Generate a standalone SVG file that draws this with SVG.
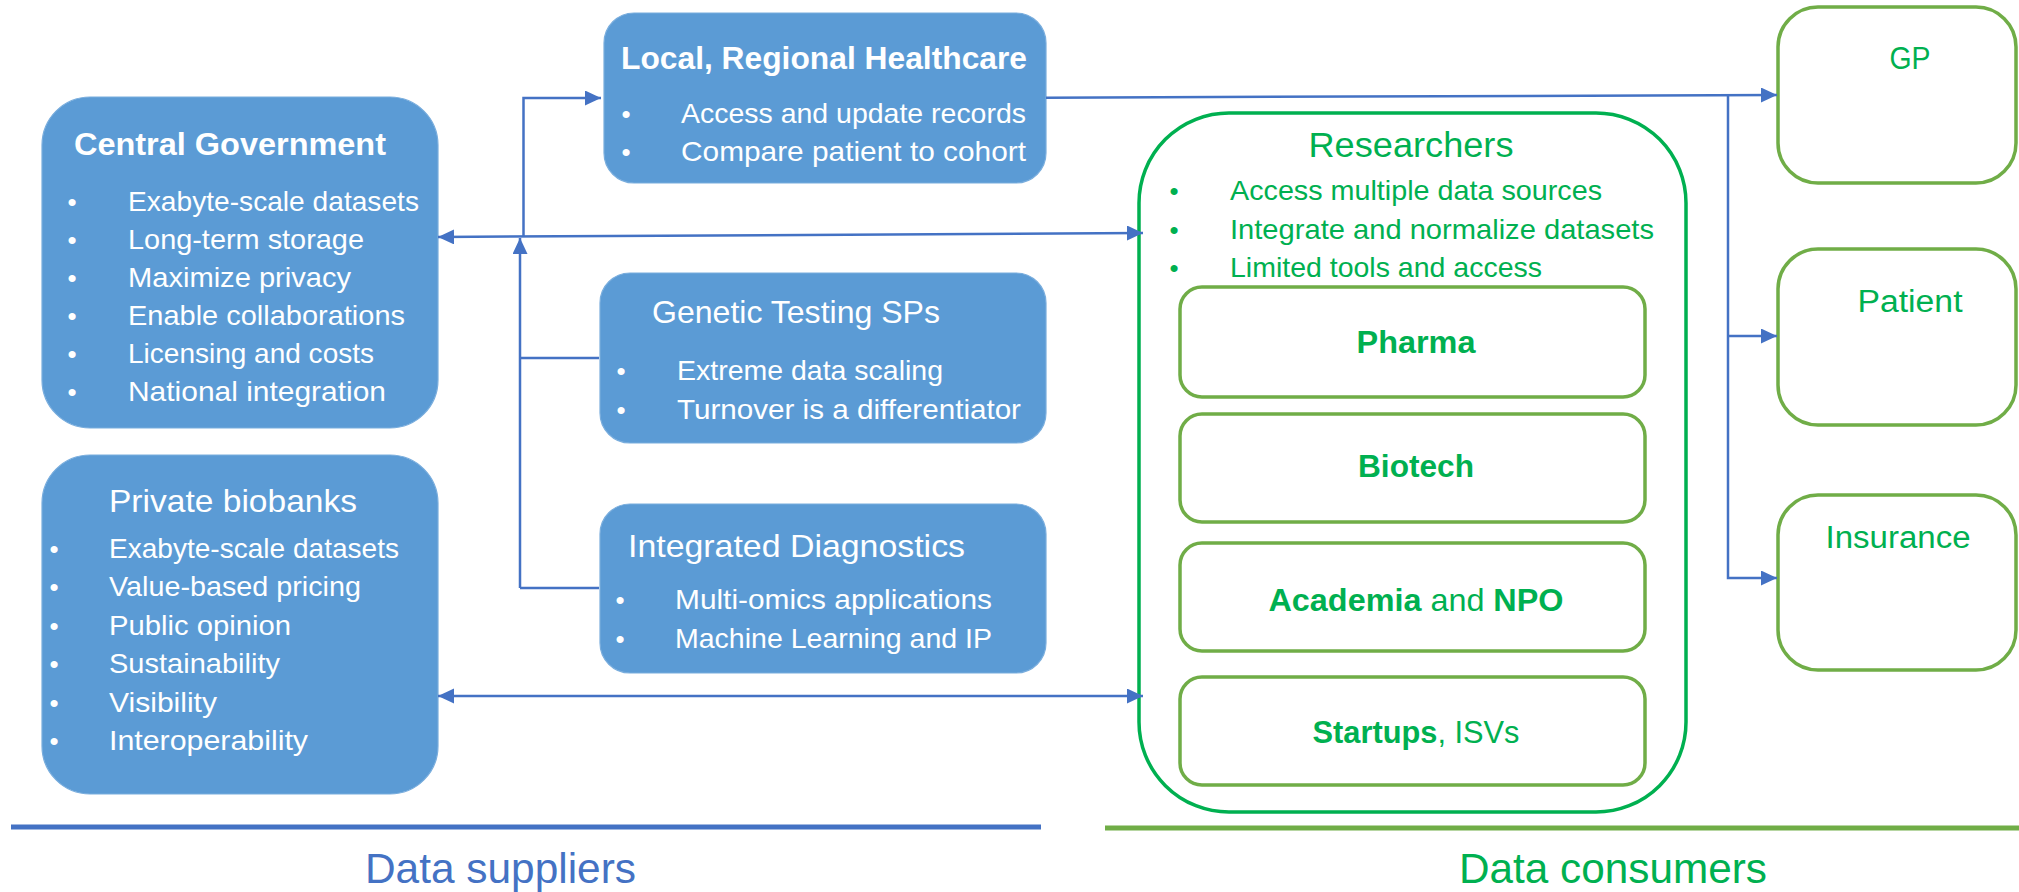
<svg xmlns="http://www.w3.org/2000/svg" width="2019" height="892" viewBox="0 0 2019 892">
<defs>
<style>
.sup{fill:#5B9BD5;stroke:#79ADDD;stroke-width:1.2}
.t{font-family:"Liberation Sans",Arial,sans-serif;fill:#fff}
.ttl{font-size:32px}
.b{font-weight:bold}
.bl{font-size:28px}
.dot{font-size:26px;text-anchor:middle}
.g{fill:#00B050}
.ctr{text-anchor:middle}
.cons{fill:#fff;stroke:#70AD47;stroke-width:3.5}
.res{fill:none;stroke:#00B050;stroke-width:3.5}
.con{stroke:#4472C4;stroke-width:2.5;fill:none}
</style>
<marker id="ah" markerUnits="userSpaceOnUse" markerWidth="17" markerHeight="16" refX="16" refY="7.5" orient="auto-start-reverse">
<path d="M0,0 L16,7.5 L0,15 z" fill="#4472C4"/>
</marker>
</defs>
<rect width="2019" height="892" fill="#fff"/>

<g id="central-government">
<rect class="sup" x="42" y="97" width="396" height="331" rx="48"/>
<text class="t ttl b" x="74" y="155" textLength="312" lengthAdjust="spacingAndGlyphs">Central Government</text>
<g class="t dot"><text x="72" y="211">•</text><text x="72" y="249">•</text><text x="72" y="287">•</text><text x="72" y="325">•</text><text x="72" y="363">•</text><text x="72" y="401">•</text></g>
<text class="t bl" x="128" y="211" textLength="291" lengthAdjust="spacingAndGlyphs">Exabyte-scale datasets</text>
<text class="t bl" x="128" y="249" textLength="236" lengthAdjust="spacingAndGlyphs">Long-term storage</text>
<text class="t bl" x="128" y="287" textLength="223" lengthAdjust="spacingAndGlyphs">Maximize privacy</text>
<text class="t bl" x="128" y="325" textLength="277" lengthAdjust="spacingAndGlyphs">Enable collaborations</text>
<text class="t bl" x="128" y="363" textLength="246" lengthAdjust="spacingAndGlyphs">Licensing and costs</text>
<text class="t bl" x="128" y="401" textLength="258" lengthAdjust="spacingAndGlyphs">National integration</text>
</g>

<g id="private-biobanks">
<rect class="sup" x="42" y="455" width="396" height="339" rx="48"/>
<text class="t ttl" x="109" y="512" textLength="248" lengthAdjust="spacingAndGlyphs">Private biobanks</text>
<g class="t dot"><text x="54" y="558">•</text><text x="54" y="596">•</text><text x="54" y="635">•</text><text x="54" y="673">•</text><text x="54" y="712">•</text><text x="54" y="750">•</text></g>
<text class="t bl" x="109" y="558" textLength="290" lengthAdjust="spacingAndGlyphs">Exabyte-scale datasets</text>
<text class="t bl" x="109" y="596" textLength="252" lengthAdjust="spacingAndGlyphs">Value-based pricing</text>
<text class="t bl" x="109" y="635" textLength="182" lengthAdjust="spacingAndGlyphs">Public opinion</text>
<text class="t bl" x="109" y="673" textLength="171" lengthAdjust="spacingAndGlyphs">Sustainability</text>
<text class="t bl" x="109" y="712" textLength="108" lengthAdjust="spacingAndGlyphs">Visibility</text>
<text class="t bl" x="109" y="750" textLength="199" lengthAdjust="spacingAndGlyphs">Interoperability</text>
</g>

<g id="local-healthcare">
<rect class="sup" x="604" y="13" width="442" height="170" rx="30"/>
<text class="t ttl b" x="621" y="69" textLength="406" lengthAdjust="spacingAndGlyphs">Local, Regional Healthcare</text>
<g class="t dot"><text x="626" y="123">•</text><text x="626" y="161">•</text></g>
<text class="t bl" x="681" y="123" textLength="345" lengthAdjust="spacingAndGlyphs">Access and update records</text>
<text class="t bl" x="681" y="161" textLength="345" lengthAdjust="spacingAndGlyphs">Compare patient to cohort</text>
</g>

<g id="genetic-testing">
<rect class="sup" x="600" y="273" width="446" height="170" rx="30"/>
<text class="t ttl" x="652" y="323" textLength="288" lengthAdjust="spacingAndGlyphs">Genetic Testing SPs</text>
<g class="t dot"><text x="621" y="380">•</text><text x="621" y="419">•</text></g>
<text class="t bl" x="677" y="380" textLength="266" lengthAdjust="spacingAndGlyphs">Extreme data scaling</text>
<text class="t bl" x="677" y="419" textLength="344" lengthAdjust="spacingAndGlyphs">Turnover is a differentiator</text>
</g>

<g id="integrated-diagnostics">
<rect class="sup" x="600" y="504" width="446" height="169" rx="30"/>
<text class="t ttl" x="628" y="557" textLength="337" lengthAdjust="spacingAndGlyphs">Integrated Diagnostics</text>
<g class="t dot"><text x="620" y="609">•</text><text x="620" y="648">•</text></g>
<text class="t bl" x="675" y="609" textLength="317" lengthAdjust="spacingAndGlyphs">Multi-omics applications</text>
<text class="t bl" x="675" y="648" textLength="317" lengthAdjust="spacingAndGlyphs">Machine Learning and IP</text>
</g>

<g id="researchers">
<rect class="res" x="1139" y="113" width="547" height="699" rx="90"/>
<text class="t g ctr" x="1411" y="157" font-size="35" textLength="205" lengthAdjust="spacingAndGlyphs">Researchers</text>
<g class="t g dot"><text x="1174" y="200">•</text><text x="1174" y="239">•</text><text x="1174" y="277">•</text></g>
<text class="t g bl" x="1230" y="200" textLength="372" lengthAdjust="spacingAndGlyphs">Access multiple data sources</text>
<text class="t g bl" x="1230" y="239" textLength="424" lengthAdjust="spacingAndGlyphs">Integrate and normalize datasets</text>
<text class="t g bl" x="1230" y="277" textLength="312" lengthAdjust="spacingAndGlyphs">Limited tools and access</text>
</g>

<g id="pharma">
<rect class="cons" x="1180" y="287" width="465" height="110" rx="22"/>
<text class="t g ttl b ctr" x="1416" y="353" textLength="119" lengthAdjust="spacingAndGlyphs">Pharma</text>
</g>
<g id="biotech">
<rect class="cons" x="1180" y="414" width="465" height="108" rx="22"/>
<text class="t g ttl b ctr" x="1416" y="477" textLength="116" lengthAdjust="spacingAndGlyphs">Biotech</text>
</g>
<g id="academia">
<rect class="cons" x="1180" y="543" width="465" height="108" rx="22"/>
<text class="t g ttl ctr" x="1416" y="611" textLength="295" lengthAdjust="spacingAndGlyphs"><tspan class="b">Academia</tspan> and <tspan class="b">NPO</tspan></text>
</g>
<g id="startups">
<rect class="cons" x="1180" y="677" width="465" height="108" rx="22"/>
<text class="t g ttl ctr" x="1416" y="743" textLength="207" lengthAdjust="spacingAndGlyphs"><tspan class="b">Startups</tspan>, ISVs</text>
</g>

<g id="gp">
<rect class="cons" x="1778" y="7" width="238" height="176" rx="40"/>
<text class="t g ctr" x="1910" y="69" font-size="31" textLength="41" lengthAdjust="spacingAndGlyphs">GP</text>
</g>
<g id="patient">
<rect class="cons" x="1778" y="249" width="238" height="176" rx="40"/>
<text class="t g ctr" x="1910" y="312" font-size="31" textLength="105" lengthAdjust="spacingAndGlyphs">Patient</text>
</g>
<g id="insurance">
<rect class="cons" x="1778" y="495" width="238" height="175" rx="40"/>
<text class="t g ctr" x="1898" y="548" font-size="31" textLength="145" lengthAdjust="spacingAndGlyphs">Insurance</text>
</g>

<g id="connectors">
<line class="con" x1="438" y1="237" x2="1143" y2="233" marker-start="url(#ah)" marker-end="url(#ah)"/>
<polyline class="con" points="523.5,236 523.5,98 601,98" marker-end="url(#ah)"/>
<line class="con" x1="520" y1="588" x2="520" y2="238" marker-end="url(#ah)"/>
<line class="con" x1="520" y1="358" x2="599" y2="358"/>
<line class="con" x1="520" y1="588" x2="599" y2="588"/>
<line class="con" x1="438" y1="696" x2="1143" y2="696" marker-start="url(#ah)" marker-end="url(#ah)"/>
<line class="con" x1="1046" y1="97.7" x2="1777" y2="95" marker-end="url(#ah)"/>
<polyline class="con" points="1728,96 1728,578 1777,578" marker-end="url(#ah)"/>
<line class="con" x1="1728" y1="336" x2="1777" y2="336" marker-end="url(#ah)"/>
</g>

<g id="legend">
<line x1="11" y1="827" x2="1041" y2="827" stroke="#4472C4" stroke-width="5"/>
<line x1="1105" y1="828" x2="2019" y2="828" stroke="#70AD47" stroke-width="5"/>
<text x="365" y="883" font-family="Liberation Sans, Arial, sans-serif" font-size="42" fill="#4472C4" textLength="271" lengthAdjust="spacingAndGlyphs">Data suppliers</text>
<text x="1459" y="883" font-family="Liberation Sans, Arial, sans-serif" font-size="42" fill="#00B050" textLength="308" lengthAdjust="spacingAndGlyphs">Data consumers</text>
</g>
</svg>
